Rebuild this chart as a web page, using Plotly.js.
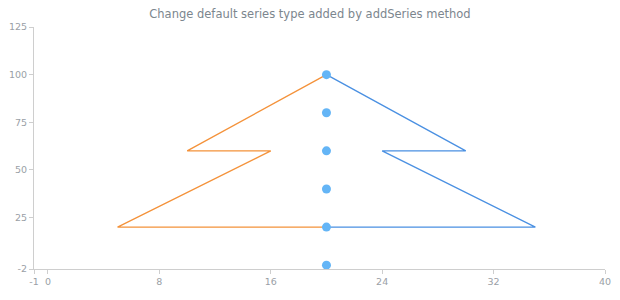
<!DOCTYPE html>
<html>
<head>
<meta charset="utf-8">
<script src="https://cdn.plot.ly/plotly-3.0.1.min.js"></script>
<style>html,body{margin:0;padding:0;background:#fff;}#chart{width:620px;height:300px;}</style>
</head>
<body>
<div id="chart"></div>
<script>
const titleText = "Change default series type added by addSeries method";
const orangeX = [20, 10, 16, 5, 20];
const orangeY = [100, 60, 60, 20, 20];
const blueX = [20, 30, 24, 35, 20];
const blueY = [100, 60, 60, 20, 20];
const markerX = [20, 20, 20, 20, 20, 20];
const markerY = [100, 80, 60, 40, 20, 0];
const xTicks = [-1, 0, 8, 16, 24, 32, 40];
const yTicks = [-2, 25, 50, 75, 100, 125];

const traces = [
  {x: orangeX, y: orangeY, type: 'scatter', mode: 'lines', line: {color: '#f4923a', width: 1.3}, hoverinfo: 'skip'},
  {x: blueX, y: blueY, type: 'scatter', mode: 'lines', line: {color: '#4a90e2', width: 1.3}, hoverinfo: 'skip'},
  {x: markerX, y: markerY, type: 'scatter', mode: 'markers', marker: {color: '#64b5f6', size: 9}, hoverinfo: 'skip'}
];

const axisCommon = {
  showgrid: false, zeroline: false, showline: true, linecolor: '#cecece', linewidth: 1,
  ticks: 'outside', ticklen: 4, tickcolor: '#cecece',
  tickfont: {family: 'DejaVu Sans, Verdana, sans-serif', size: 9.5, color: '#9aa0a6'}
};

const layout = {
  width: 620, height: 300,
  margin: {l: 34, r: 15, t: 27, b: 31},
  paper_bgcolor: '#fff', plot_bgcolor: '#fff',
  showlegend: false,
  title: {text: titleText, x: 0.5, xanchor: 'center', y: 0.955, yanchor: 'middle',
    font: {family: 'DejaVu Sans, Verdana, sans-serif', size: 11.5, color: '#7c868e'}},
  xaxis: Object.assign({}, axisCommon, {range: [-1, 40], tickmode: 'array', tickvals: xTicks, ticktext: xTicks.map(String)}),
  yaxis: Object.assign({}, axisCommon, {range: [-2, 125], tickmode: 'array', tickvals: yTicks, ticktext: yTicks.map(String)})
};

Plotly.newPlot('chart', traces, layout, {displayModeBar: false, staticPlot: true});
</script>
</body>
</html>
